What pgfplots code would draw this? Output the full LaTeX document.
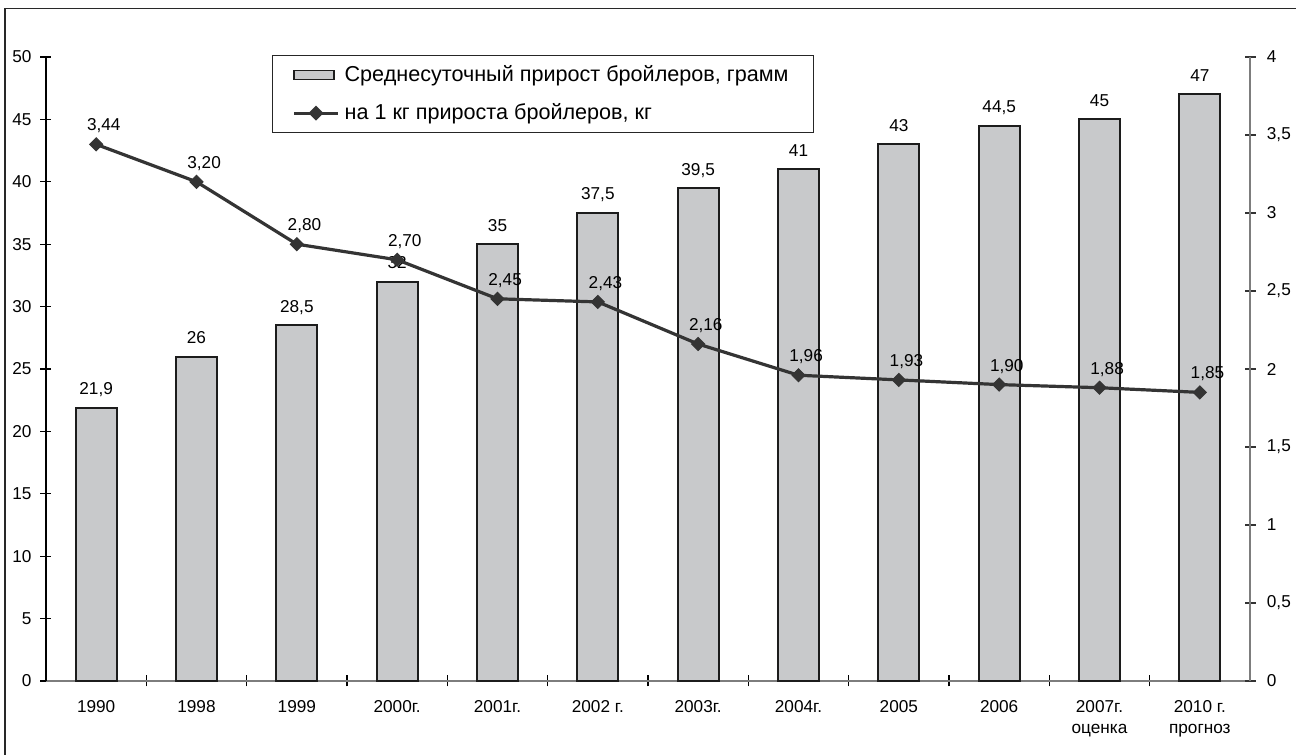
\documentclass[border=0pt]{standalone}
\usepackage{pgfplots}
\pgfplotsset{compat=1.18}
\usepackage{pgfplotstable}
\usepackage{fontspec}
\setmainfont{Liberation Sans}

\definecolor{barfill}{RGB}{200,201,203}
\definecolor{barline}{RGB}{28,28,28}
\definecolor{linecol}{RGB}{52,52,52}
\definecolor{axgray}{RGB}{125,125,125}
\definecolor{framecol}{RGB}{40,40,40}

\newcommand\lblfont{\fontsize{8.6}{10.5}\selectfont}
\newcommand\legfont{\fontsize{10.8}{12}\selectfont}

% idx: category position; gain: daily gain, g; feed: feed per 1 kg of gain, kg
\pgfplotstableread{
idx gain feed
0  21.9 3.44
1  26   3.20
2  28.5 2.80
3  32   2.70
4  35   2.45
5  37.5 2.43
6  39.5 2.16
7  41   1.96
8  43   1.93
9  44.5 1.90
10 45   1.88
11 47   1.85
}\broiler

\pgfplotsset{
  /pgf/number format/assume math mode=true,
  common/.style={
    at={(23pt,37pt)}, anchor=south west,
    scale only axis, width=602pt, height=312pt,
    xmin=-0.5, xmax=11.5, clip=false,
    tick align=center, major tick length=5.5pt,
    tick label style={font=\lblfont},
  },
  barlegend/.style={legend image code/.code={%
    \draw[fill=barfill, draw=barline, line width=0.6pt]
      (0pt,-2.3pt) rectangle (20pt,2.3pt);}},
  linelegend/.style={legend image code/.code={%
    \draw[mark repeat=2, mark phase=2, ##1]
      plot coordinates {(0pt,0pt) (11pt,0pt) (22pt,0pt)};}},
}

\begin{document}
\begin{tikzpicture}
\useasboundingbox (0pt,0pt) rectangle (648pt,377.5pt);
\draw[framecol, line width=0.8pt] (2.5pt,-10pt) rectangle (660pt,373.3pt);

% bars, left axis
\begin{axis}[common,
  ymin=0, ymax=50,
  axis x line*=bottom, axis y line*=left,
  x axis line style={axgray, line width=0.8pt},
  y axis line style={black, line width=0.6pt},
  ytick={0,5,...,50},
  ytick style={black, line width=0.6pt},
  yticklabel style={anchor=east, inner sep=0pt, xshift=-4.3pt},
  xtick={0.5,1.5,...,10.5}, xticklabels={},
  xtick style={black, line width=0.6pt},
  extra x ticks={0,1,...,11},
  extra x tick labels={1990,1998,1999,2000г.,2001г.,2002 г.,2003г.,2004г.,2005,2006,{2007г.\\оценка},{2010 г.\\прогноз}},
  extra x tick style={major tick length=0pt,
    xticklabel style={align=center, anchor=north, inner sep=0pt, yshift=-9.5pt}},
  legend cell align=left,
  legend style={at={(0.1877,1.0032)}, anchor=north west,
    draw=black!85, line width=0.6pt, font=\legfont,
    inner xsep=10pt, inner ysep=2.5pt, row sep=4.5pt,
    nodes={inner sep=2.5pt}},
]
\addplot[ybar, bar width=20.5pt, fill=barfill, draw=barline, line width=1pt,
  point meta=y,
  nodes near coords={\pgfmathprintnumber[use comma]{\pgfplotspointmeta}},
  nodes near coords style={font=\lblfont, text=black, anchor=south,
    inner sep=0pt, text depth=0pt, yshift=6pt},
  barlegend]
  table[x=idx, y=gain]{\broiler};
\addlegendentry{Среднесуточный прирост бройлеров, грамм}
\addlegendimage{linecol, line width=1.5pt, mark=square*, mark size=1.9pt,
  mark options={rotate=45, fill=linecol}, linelegend}
\addlegendentry{на 1 кг прироста бройлеров, кг}
\end{axis}

% feed conversion, right axis
\begin{axis}[common,
  ymin=0, ymax=4,
  axis x line=none, axis y line*=right,
  y axis line style={axgray, line width=0.8pt},
  ytick={0,0.5,...,4},
  ytick style={black!80, line width=0.6pt},
  yticklabel style={anchor=west, inner sep=0pt, xshift=5.5pt,
    /pgf/number format/use comma},
]
\addplot[linecol, line width=1.6pt, mark=square*, mark size=2.3pt,
  mark options={rotate=45, fill=linecol, line width=0.5pt},
  point meta=y,
  nodes near coords={\pgfmathprintnumber[fixed, fixed zerofill, precision=2, use comma]{\pgfplotspointmeta}},
  nodes near coords style={font=\lblfont, text=black, anchor=south,
    inner sep=0pt, text depth=0pt, xshift=3.8pt, yshift=6.5pt}]
  table[x=idx, y=feed]{\broiler};
\end{axis}
\end{tikzpicture}
\end{document}
